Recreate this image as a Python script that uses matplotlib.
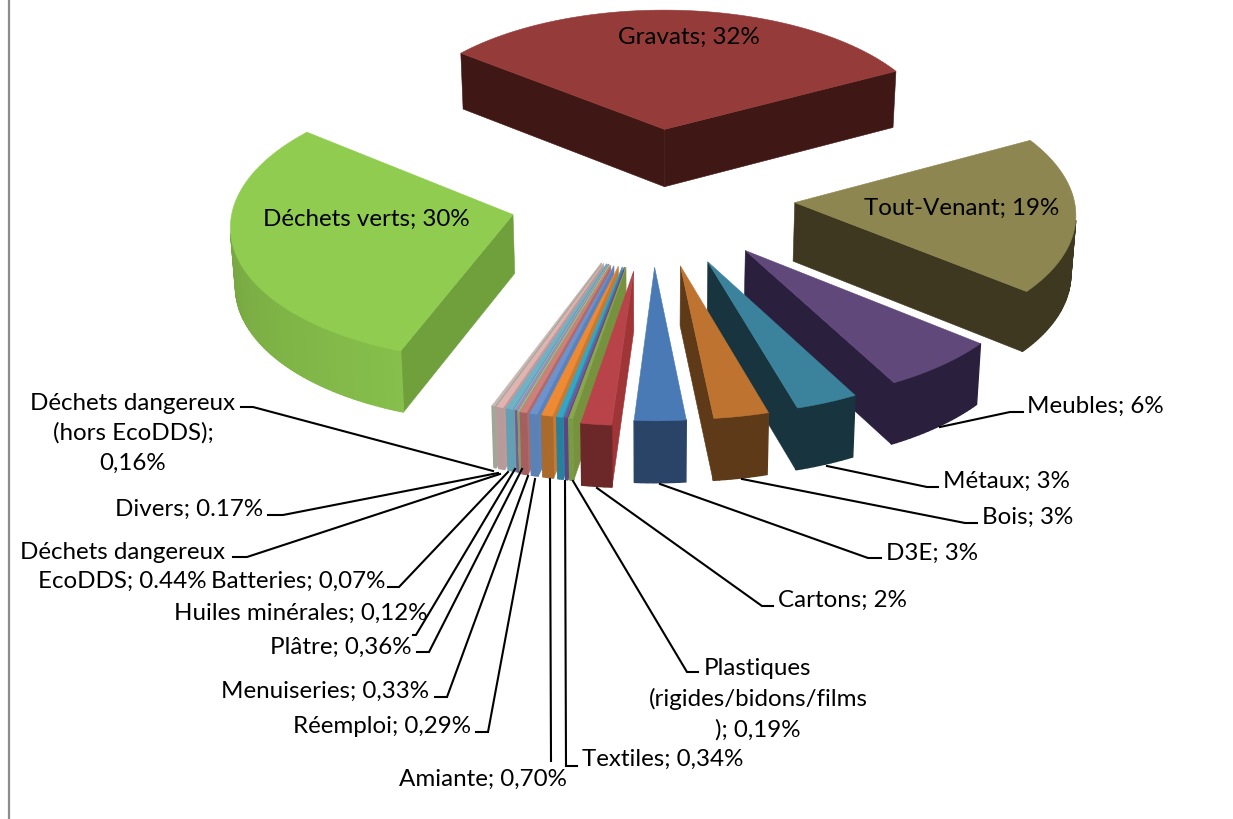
"""
3D exploded pie of waste shares, drawn with flat polygons in a 1233x820 pixel axes.
"""
import numpy as np
import matplotlib
matplotlib.use("Agg")
import matplotlib.pyplot as plt
from matplotlib.colors import to_rgb

plt.rcParams["font.family"] = ["Lato", "DejaVu Sans"]

# Slices clockwise from the left edge of Gravats, shares
slice_names = ["Gravats", "Tout-Venant", "Meubles", "Métaux", "Bois", "D3E", "Cartons",
               "Autres", "Plastiques", "Textiles", "Amiante", "Réemploi", "Menuiseries",
               "Plâtre", "Huiles minérales", "Batteries", "Déchets dangereux EcoDDS",
               "Divers", "Déchets dangereux (hors EcoDDS)", "Déchets verts"]
shares = [31.4, 18.7, 6.3, 3.3, 2.9, 2.7, 1.6,
          0.22, 0.13, 0.30, 0.58, 0.38, 0.33,
          0.03, 0.14, 0.02, 0.35, 0.35, 0.14, 30.1]
# How far each slice is pulled out of the pie, Cartons sits a little lower
explode = [143, 143, 143, 143, 143, 143, 152,
           145, 145, 145, 145, 145, 145,
           145, 143, 143, 143, 143, 143, 143]
top_colors = ["#953C3A", "#8E8650", "#60497A", "#3B839C", "#BE7430", "#4A7AB5", "#B8444A",
              "#8AA84B", "#7358A0", "#35A5C6", "#EE8A33", "#6C93CE", "#CF7F7C",
              "#A9BE7E", "#9C8DBD", "#8FB5BC", "#6FB2C8", "#E0B4B2", "#C9B9B6", "#90CC4F"]
cut_colors = ["#3F1715", "#3D381F", "#2A1F3C", "#17343F", "#5F3A18", "#2A4467", "#A03538",
              "#76923F", "#5E4685", "#2D8CA8", "#C87A30", "#5B82BC", "#B16A68",
              "#8FA36A", "#7F70A0", "#7AA0A8", "#5D9BB0", "#C09A98", "#A8A89A", "#6FA03C"]
outer_start = ["#3F1715", "#3D381F", "#2A1F3C", "#17343F", "#5F3A18", "#2A4467", "#6C2828",
               "#7A9A43", "#5B4585", "#28809C", "#A96A2C", "#5B82B4", "#A45F5E",
               "#8C9A6A", "#6F5F92", "#6FA0AE", "#649FB4", "#B79B9A", "#A3A697", "#86BF4C"]
outer_end = ["#3F1715", "#3D381F", "#2A1F3C", "#17343F", "#5F3A18", "#2A4467", "#6C2828",
             "#7A9A43", "#5B4585", "#28809C", "#A96A2C", "#5B82B4", "#A45F5E",
             "#8C9A6A", "#6F5F92", "#6FA0AE", "#649FB4", "#B79B9A", "#A3A697", "#6C963A"]

# Label text and where it sits: x, y, horizontal anchor
label_texts = ["Gravats; 32%", "Déchets verts; 30%", "Tout-Venant; 19%", "Meubles; 6%",
               "Métaux; 3%", "Bois; 3%", "D3E; 3%", "Cartons; 2%",
               "Plastiques\n(rigides/bidons/films\n); 0,19%", "Textiles; 0,34%",
               "Amiante; 0,70%", "Réemploi; 0,29%", "Menuiseries; 0,33%", "Plâtre; 0,36%",
               "Huiles minérales; 0,12%", "Batteries; 0,07%",
               "Déchets dangereux\nEcoDDS; 0.44%", "Divers; 0.17%",
               "Déchets dangereux\n(hors EcoDDS);\n0,16%"]
label_x = [689, 366, 962, 1027, 943, 982, 886, 778, 758, 582, 399, 471, 429, 412, 428, 385, 122, 263, 133]
label_y = [37, 219, 208, 406, 481, 517, 553, 600, 699, 759, 779, 727, 691, 647, 613, 581, 567, 509, 433]
label_ha = ["center", "center", "center", "left", "left", "left", "left", "left", "center", "left",
            "left", "right", "right", "right", "right", "right", "center", "right", "center"]

# Leader lines in label order, the first three labels sit on their slices
leader_x = [[1023, 1010, 940], [938, 927, 827], [977, 965, 742], [881, 868, 660], [773, 762, 597],
            [698, 687, 573], [577, 566, 565], [551, 550], [476, 488, 535], [435, 447, 528],
            [417, 429, 522], [413, 416, 515], [388, 399, 508], [233, 247, 500], [268, 283, 498],
            [241, 253, 493]]
leader_y = [[413, 413, 428], [488, 488, 467], [524, 524, 480], [559, 559, 485], [607, 607, 489],
            [673, 673, 482], [767, 767, 482], [762, 480], [733, 733, 480], [698, 698, 477],
            [653, 653, 470], [636, 636, 470], [588, 588, 473], [558, 558, 475], [516, 516, 474],
            [408, 408, 472]]

START_ANGLE = -51.3
CX, CY = 652, 197
RADIUS = 279
PERSP = 2.23e-4
SQUASH = 0.4826
HEIGHT = 58.5


def project(x, y, z):
    # z = 0 on the top face, 1 on the bottom one
    s = 1 / (1 + PERSP * y)
    shrink = 1 - 0.012 * z
    return (CX + x * s * shrink,
            CY - SQUASH * y * s + z * HEIGHT * (1 - 1.41e-4 * y))


def mix(a, b, t):
    a, b = np.array(to_rgb(a)), np.array(to_rgb(b))
    return tuple(a + (b - a) * t)


def quad_visible(p):
    # walk the top edge in slice order, front walls come out one way round
    xs = np.array([q[0] for q in p])
    ys = np.array([q[1] for q in p])
    area = np.sum(xs * np.roll(ys, -1) - np.roll(xs, -1) * ys)
    return area < 0


fig = plt.figure(figsize=(12.33, 8.2), dpi=100)
ax = fig.add_axes([0, 0, 1, 1])
ax.set_xlim(0, 1233)
ax.set_ylim(820, 0)
ax.axis("off")

# Grey frame edge on the left
ax.plot([8.5, 8.5], [0, 820], color="#8C8C8C", lw=1.6, zorder=1)

fractions = np.array(shares) / np.sum(shares)
ends = START_ANGLE + np.cumsum(fractions) * 360
starts = ends - fractions * 360

slices = []
for i in range(len(shares)):
    mid = np.radians((starts[i] + ends[i]) / 2)
    ox, oy = explode[i] * np.sin(mid), explode[i] * np.cos(mid)
    slices.append((oy, i, ox))

# Back slices first
zorder = 2
for oy, i, ox in sorted(slices, key=lambda s: -s[0]):
    theta = np.radians(np.linspace(starts[i], ends[i], max(4, int(fractions[i] * 360))))
    arc_x = ox + RADIUS * np.sin(theta)
    arc_y = oy + RADIUS * np.cos(theta)

    walls = []
    # the two cut faces
    for (xa, ya), (xb, yb) in [(((ox, oy)), (arc_x[0], arc_y[0])), ((arc_x[-1], arc_y[-1]), (ox, oy))]:
        quad = [project(xa, ya, 0), project(xb, yb, 0), project(xb, yb, 1), project(xa, ya, 1)]
        if quad_visible(quad):
            walls.append((quad, cut_colors[i], 0.4))
    # outer wall, split up for the colour ramp
    for k in range(len(theta) - 1):
        quad = [project(arc_x[k], arc_y[k], 0), project(arc_x[k + 1], arc_y[k + 1], 0),
                project(arc_x[k + 1], arc_y[k + 1], 1), project(arc_x[k], arc_y[k], 1)]
        if quad_visible(quad):
            walls.append((quad, mix(outer_start[i], outer_end[i], k / (len(theta) - 1)), 1.0))

    for quad, colour, lw in walls:
        ax.fill([q[0] for q in quad], [q[1] for q in quad], color=colour, lw=lw, zorder=zorder)
        zorder += 1

    top = [project(ox, oy, 0)] + [project(a, b, 0) for a, b in zip(arc_x, arc_y)]
    ax.fill([q[0] for q in top], [q[1] for q in top], color=top_colors[i], lw=0.4, zorder=zorder)
    zorder += 1

for xs, ys in zip(leader_x, leader_y):
    ax.plot(xs, ys, color="black", lw=1.5, solid_joinstyle="miter", zorder=zorder)

for text, x, y, ha in zip(label_texts, label_x, label_y, label_ha):
    ax.text(x, y, text, ha=ha, va="center", fontsize=17.4, color="black",
            linespacing=1.5, zorder=zorder + 1)

fig.savefig("out.png", dpi=100)
